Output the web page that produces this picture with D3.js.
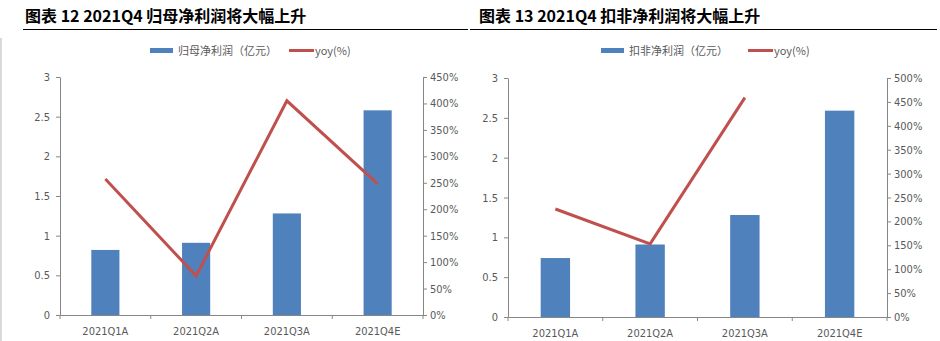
<!DOCTYPE html>
<html><head><meta charset="utf-8">
<script src="https://cdn.jsdelivr.net/npm/d3@7"></script>
<style>
body{margin:0;background:#fff;}
svg{display:block;font-family:"Noto Sans CJK SC","DejaVu Sans",sans-serif;}
</style></head><body>
<svg id="c" width="940" height="341"></svg>
<script>
const categories = ["2021Q1A","2021Q2A","2021Q3A","2021Q4E"];
const titles = ["图表 12 2021Q4 归母净利润将大幅上升","图表 13 2021Q4 扣非净利润将大幅上升"];
const barNames = ["归母净利润（亿元）","扣非净利润（亿元）"];
const lineName = "yoy(%)";
const profit1 = [0.82, 0.91, 1.28, 2.58];
const yoy1 = [257, 74, 405, 248];
const profit2 = [0.74, 0.91, 1.28, 2.59];
const yoy2 = [226, 153, 459, null];
const leftTicks = [0, 0.5, 1, 1.5, 2, 2.5, 3];
const rightTicks1 = [0,50,100,150,200,250,300,350,400,450];
const rightTicks2 = [0,50,100,150,200,250,300,350,400,450,500];

const svg = d3.select("#c");
const BLUE = "#4F81BD", RED = "#C0504D", AX = "#868686", TXT = "#595959";

// light left border
svg.append("line").attr("x1",1).attr("x2",1).attr("y1",38).attr("y2",341)
  .attr("stroke","#d9d9d9").attr("stroke-width",2);

function panel(cfg){
  const g = svg.append("g");
  g.append("text").attr("x",cfg.tx).attr("y",22).attr("font-size",16).attr("font-weight","bold")
    .attr("fill","#000").text(cfg.title);
  g.append("line").attr("x1",cfg.lx1).attr("x2",cfg.lx2).attr("y1",29.5).attr("y2",29.5)
    .attr("stroke","#000").attr("stroke-width",1.2);

  const x = d3.scaleBand().domain(categories).range([cfg.x0,cfg.x1]).paddingInner(0.69).paddingOuter(0.345);
  const xb = d3.scaleBand().domain(categories).range([cfg.x0,cfg.x1]);
  const yL = d3.scaleLinear().domain([0,3]).range([cfg.y0,cfg.yTop]);
  const yR = d3.scaleLinear().domain([0,cfg.rmax]).range([cfg.y0,cfg.yTop]);

  // bars
  g.selectAll("rect.bar").data(cfg.bars).join("rect")
    .attr("x",(d,i)=>x(categories[i])).attr("width",x.bandwidth())
    .attr("y",d=>yL(d)).attr("height",d=>cfg.y0-yL(d)).attr("fill",BLUE);

  // left axis
  const la = g.append("g").attr("transform",`translate(${cfg.x0},0)`)
    .call(d3.axisLeft(yL).tickValues(leftTicks).tickSize(4).tickSizeOuter(0).tickPadding(6).tickFormat(d3.format("")));
  // right axis
  const ra = g.append("g").attr("transform",`translate(${cfg.x1},0)`)
    .call(d3.axisRight(yR).tickValues(cfg.rticks).tickSize(4).tickSizeOuter(0).tickPadding(3).tickFormat(d=>d+"%"));
  // bottom axis
  const ba = g.append("g").attr("transform",`translate(0,${cfg.y0})`)
    .call(d3.axisBottom(xb).tickSize(0).tickPadding(12));
  const bounds = categories.map(c=>xb(c)).concat([cfg.x1]);
  g.selectAll("line.xt").data(bounds).join("line").attr("x1",d=>d).attr("x2",d=>d)
    .attr("y1",cfg.y0).attr("y2",cfg.y0+4).attr("stroke",AX);
  [la,ra,ba].forEach(a=>{
    a.selectAll("path,line").attr("stroke",AX);
    a.selectAll("text").attr("fill",TXT).attr("font-size",11).attr("font-family","'Liberation Sans Narrow','DejaVu Sans Condensed',Arial,sans-serif");
  });
  ba.select(".domain").attr("stroke",AX);

  // line
  const pts = cfg.yoy.map((v,i)=>({v,c:categories[i]}));
  const line = d3.line().defined(d=>d.v!=null).x(d=>xb(d.c)+xb.bandwidth()/2).y(d=>yR(d.v));
  g.append("path").datum(pts).attr("d",line).attr("fill","none").attr("stroke",RED).attr("stroke-width",3);

  // legend
  const lg = g.append("g");
  lg.append("line").attr("x1",cfg.lg[0]).attr("x2",cfg.lg[0]+23).attr("y1",50.5).attr("y2",50.5).attr("stroke",BLUE).attr("stroke-width",5);
  lg.append("text").attr("x",cfg.lg[0]+28).attr("y",54.5).attr("font-size",11).attr("fill",TXT).text(cfg.barName);
  lg.append("line").attr("x1",cfg.lg[1]).attr("x2",cfg.lg[1]+25).attr("y1",50.5).attr("y2",50.5).attr("stroke",RED).attr("stroke-width",3);
  lg.append("text").attr("x",cfg.lg[1]+26).attr("y",54.5).attr("font-size",11).attr("fill",TXT).text(lineName);
}

panel({title:titles[0],tx:25,lx1:23,lx2:468,x0:60,x1:423,y0:315,yTop:77,rmax:450,rticks:rightTicks1,
  bars:profit1,yoy:yoy1,barName:barNames[0],lg:[150,289]});
panel({title:titles[1],tx:479,lx1:470,lx2:937,x0:508,x1:887,y0:317,yTop:78,rmax:500,rticks:rightTicks2,
  bars:profit2,yoy:yoy2,barName:barNames[1],lg:[601,748]});
</script></body></html>
